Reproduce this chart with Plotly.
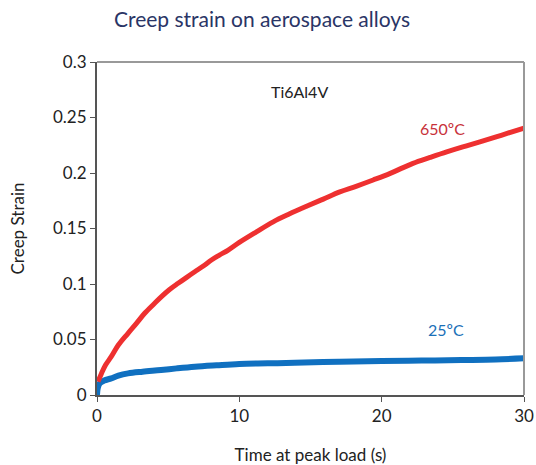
import plotly.graph_objects as go

# Red series: 650ºC
t_650 = [0.07, 0.3, 0.6, 1.0, 1.5, 2.18, 2.8, 3.35, 4.0, 4.53, 5.1, 5.7, 6.3, 6.87, 7.5, 8.04, 8.6, 9.22, 10.0,
         11.2, 12.38, 13.5, 14.72, 15.9, 17.06, 18.2, 19.4, 20.6, 22.2, 23.4, 24.57, 25.7, 26.9, 28.4, 30.0]
s_650 = [0.012, 0.019, 0.027, 0.0345, 0.045, 0.0556, 0.065, 0.0736, 0.082, 0.0886, 0.095, 0.1006, 0.106, 0.111,
         0.1165, 0.1216, 0.126, 0.1306, 0.1375, 0.147, 0.156, 0.163, 0.170, 0.1765, 0.183, 0.188, 0.1937, 0.1997,
         0.2087, 0.214, 0.219, 0.2235, 0.228, 0.234, 0.2405]

# Blue series: 25ºC
t_25 = [0.0, 0.05, 0.19, 0.5, 1.0, 1.5, 2.18, 3.2, 4.5, 5.6, 6.87, 8.4, 10.0, 12.0, 13.9, 17.0, 20.0, 22.8, 25.6, 28.0, 30.0]
s_25 = [0.0, 0.006, 0.0105, 0.013, 0.015, 0.0175, 0.0195, 0.021, 0.0225, 0.024, 0.0255, 0.0268, 0.028, 0.0285,
        0.029, 0.030, 0.0306, 0.031, 0.0315, 0.032, 0.033]

x_ticks = [0, 10, 20, 30]
y_ticks = [0, 0.05, 0.1, 0.15, 0.2, 0.25, 0.3]
y_tick_labels = ["0", "0.05", "0.1", "0.15", "0.2", "0.25", "0.3"]

RED = "#ee3030"
BLUE = "#1070c0"
FONT = "Lato"

fig = go.Figure()
fig.add_trace(go.Scatter(x=t_25, y=s_25, mode="lines", line=dict(color=BLUE, width=6, shape="spline"),
                         showlegend=False))
fig.add_trace(go.Scatter(x=t_650, y=s_650, mode="lines", line=dict(color=RED, width=5, shape="spline"),
                         showlegend=False))

fig.add_annotation(x=24.3, y=0.2405, text="650ºC", showarrow=False,
                   font=dict(family=FONT, size=16, color="#c8313a"))
fig.add_annotation(x=24.5, y=0.0586, text="25ºC", showarrow=False,
                   font=dict(family=FONT, size=16, color="#1a70b8"))
fig.add_annotation(x=14.25, y=0.273, text="Ti6Al4V", showarrow=False,
                   font=dict(family=FONT, size=16, color="#222222"))

# light frame on top and right
fig.add_shape(type="line", xref="paper", yref="paper", x0=0, x1=1, y0=1, y1=1,
              line=dict(color="#999999", width=2))
fig.add_shape(type="line", xref="paper", yref="paper", x0=1, x1=1, y0=0, y1=1,
              line=dict(color="#999999", width=2))

W, H = 536, 465
fig.update_layout(
    width=W, height=H,
    margin=dict(l=97, r=12, t=62, b=70, autoexpand=False),
    paper_bgcolor="white", plot_bgcolor="white",
    font=dict(family=FONT, color="#222222"),
    title=dict(text="Creep strain on aerospace alloys", x=262 / W, xanchor="center",
               y=1 - 20 / H, yanchor="middle",
               font=dict(family=FONT, size=21, color="#2a3566")),
    xaxis=dict(range=[0, 30], tickvals=x_ticks, showgrid=False, zeroline=False,
               showline=True, linecolor="#555555", linewidth=2,
               ticks="outside", ticklen=5, tickcolor="#555555", automargin=False,
               tickfont=dict(family=FONT, size=17, color="#222222"),
               title=dict(text="Time at peak load (s)", standoff=25,
                          font=dict(family=FONT, size=17, color="#222222"))),
    yaxis=dict(range=[0, 0.3], tickvals=y_ticks, ticktext=y_tick_labels, showgrid=False, zeroline=False,
               showline=True, linecolor="#555555", linewidth=2,
               ticks="outside", ticklen=5, tickcolor="#555555", automargin=False,
               tickfont=dict(family=FONT, size=17, color="#222222"),
               title=dict(text="Creep Strain", standoff=24,
                          font=dict(family=FONT, size=17, color="#222222"))),
)

fig.write_html("out.html", config={"displayModeBar": False},
               post_script="document.body.style.margin='0';document.body.style.overflow='hidden';")
